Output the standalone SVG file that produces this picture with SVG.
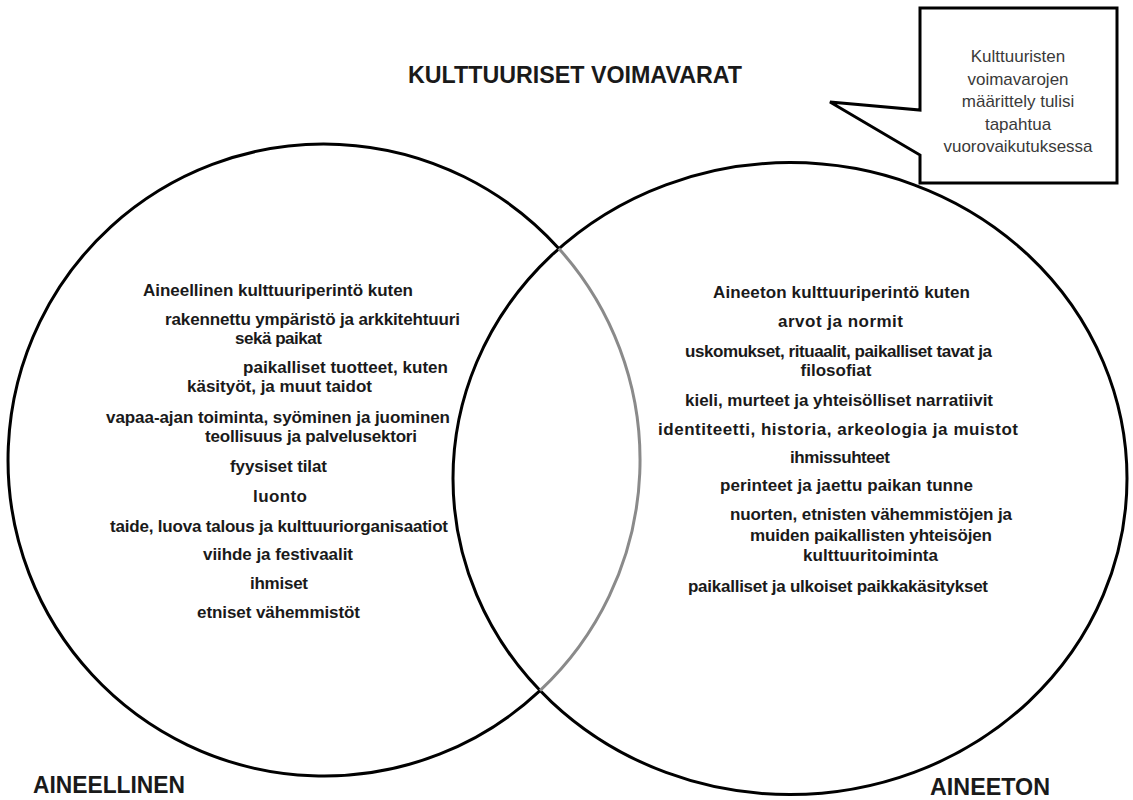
<svg xmlns="http://www.w3.org/2000/svg" width="1133" height="800" viewBox="0 0 1133 800">
<style>
.bg{fill:#ffffff}
.ring{fill:none;stroke:#000;stroke-width:3}
.ring-gray{fill:none;stroke:#8a8a8a;stroke-width:3}
.t{font-family:"Liberation Sans",Arial,sans-serif;font-weight:bold;font-size:17px;fill:#1a1a1a}
.head{font-family:"Liberation Sans",Arial,sans-serif;font-weight:bold;font-size:24px;fill:#1a1a1a}
.note{font-family:"Liberation Sans",Arial,sans-serif;font-size:17px;fill:#3a3a3a;text-anchor:middle}
.callout{fill:#fff;stroke:#000;stroke-width:3;stroke-linejoin:miter}
</style>
<rect class="bg" x="0" y="0" width="1133" height="800"/>

<g id="title">
<text class="head" x="408" y="83" textLength="334" lengthAdjust="spacingAndGlyphs">KULTTUURISET VOIMAVARAT</text>
</g>

<g id="set-aineeton">
<ellipse class="ring" cx="790" cy="478.6" rx="337" ry="316"/>
<text class="head" x="930" y="795" style="font-size:23px" textLength="120" lengthAdjust="spacingAndGlyphs">AINEETON</text>
<text class="t" x="713" y="298" textLength="257" lengthAdjust="spacing">Aineeton kulttuuriperintö kuten</text>
<text class="t" x="778" y="327" textLength="125" lengthAdjust="spacing">arvot ja normit</text>
<text class="t" x="685" y="357" textLength="307" lengthAdjust="spacing">uskomukset, rituaalit, paikalliset tavat ja</text>
<text class="t" x="836" y="376" text-anchor="middle">filosofiat</text>
<text class="t" x="685" y="406" textLength="308" lengthAdjust="spacing">kieli, murteet ja yhteisölliset narratiivit</text>
<text class="t" x="658" y="435" textLength="360" lengthAdjust="spacing">identiteetti, historia, arkeologia ja muistot</text>
<text class="t" x="790" y="463" textLength="100" lengthAdjust="spacing">ihmissuhteet</text>
<text class="t" x="720" y="491" textLength="253" lengthAdjust="spacing">perinteet ja jaettu paikan tunne</text>
<text class="t" x="730" y="520" textLength="282" lengthAdjust="spacing">nuorten, etnisten vähemmistöjen ja</text>
<text class="t" x="750" y="541" textLength="242" lengthAdjust="spacing">muiden paikallisten yhteisöjen</text>
<text class="t" x="803" y="561" textLength="135" lengthAdjust="spacing">kulttuuritoiminta</text>
<text class="t" x="688" y="592" textLength="300" lengthAdjust="spacing">paikalliset ja ulkoiset paikkakäsitykset</text>
</g>

<g id="set-aineellinen">
<path class="ring" d="M 558.8 248.5 A 316 316 0 1 0 540 690.7"/>
<path class="ring-gray" d="M 558.8 248.5 A 316 316 0 0 1 540 690.7"/>
<text class="head" x="33" y="793" textLength="152" lengthAdjust="spacingAndGlyphs">AINEELLINEN</text>
<text class="t" x="143" y="296" textLength="270" lengthAdjust="spacing">Aineellinen kulttuuriperintö kuten</text>
<text class="t" x="165" y="325" textLength="295" lengthAdjust="spacing">rakennettu ympäristö ja arkkitehtuuri</text>
<text class="t" x="235" y="344" textLength="87" lengthAdjust="spacing">sekä paikat</text>
<text class="t" x="243" y="373" textLength="205" lengthAdjust="spacing">paikalliset tuotteet, kuten</text>
<text class="t" x="187" y="392" textLength="185" lengthAdjust="spacing">käsityöt, ja muut taidot</text>
<text class="t" x="106" y="423" textLength="344" lengthAdjust="spacing">vapaa-ajan toiminta, syöminen ja juominen</text>
<text class="t" x="205" y="442" textLength="212" lengthAdjust="spacing">teollisuus ja palvelusektori</text>
<text class="t" x="230" y="472" textLength="97" lengthAdjust="spacing">fyysiset tilat</text>
<text class="t" x="253" y="502" textLength="54" lengthAdjust="spacing">luonto</text>
<text class="t" x="110" y="532" textLength="338" lengthAdjust="spacing">taide, luova talous ja kulttuuriorganisaatiot</text>
<text class="t" x="203" y="560" textLength="150" lengthAdjust="spacing">viihde ja festivaalit</text>
<text class="t" x="250" y="589" textLength="58" lengthAdjust="spacing">ihmiset</text>
<text class="t" x="197" y="618" textLength="163" lengthAdjust="spacing">etniset vähemmistöt</text>
</g>

<g id="callout">
<path class="callout" d="M 920 8 L 1117 8 L 1117 183 L 920 183 L 920 155 L 830 102 L 920 110 Z"/>
<text class="note" x="1018" y="62">Kulttuuristen</text>
<text class="note" x="1018" y="85">voimavarojen</text>
<text class="note" x="1018" y="107">määrittely tulisi</text>
<text class="note" x="1018" y="130">tapahtua</text>
<text class="note" x="1018" y="152" textLength="149" lengthAdjust="spacingAndGlyphs">vuorovaikutuksessa</text>
</g>
</svg>
